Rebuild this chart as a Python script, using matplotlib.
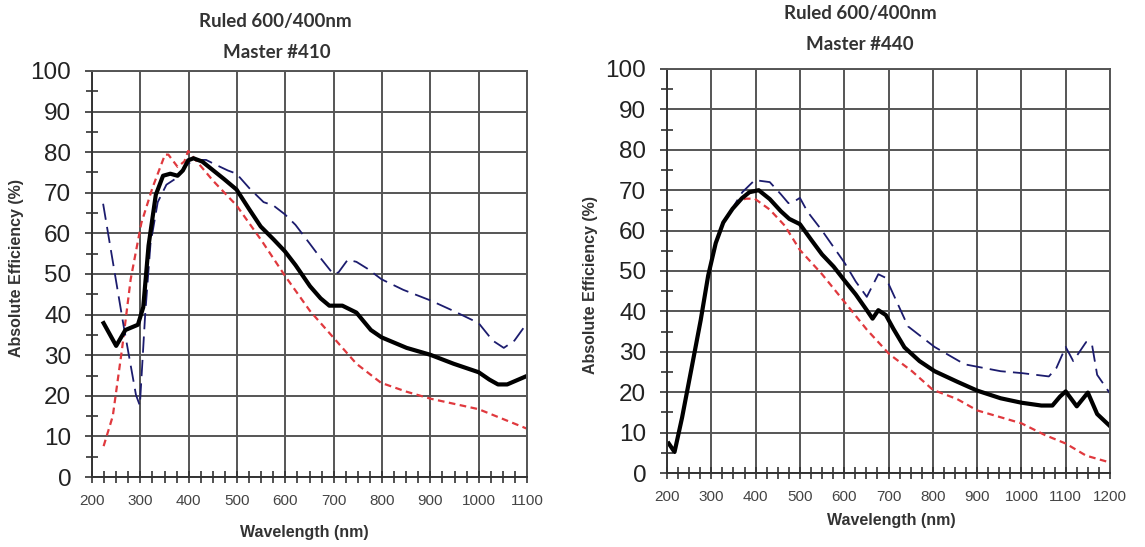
import numpy as np
import matplotlib
matplotlib.use("Agg")
import matplotlib.pyplot as plt
from matplotlib.ticker import MultipleLocator

plt.rcParams['font.family'] = ['Liberation Sans', 'DejaVu Sans']

# Master #410 efficiency curves (wavelength nm, efficiency %)
m410_black_x = [224, 250, 269, 295, 306, 317, 332, 347, 362, 377, 388, 399, 410, 428,
                451, 473, 499, 525, 549, 575, 599, 621, 651, 673, 691, 718, 747, 777,
                799, 851, 900, 948, 1000, 1022, 1040, 1059, 1100]
m410_black_y = [37.9, 32.3, 36.2, 37.5, 41.8, 57.0, 69.5, 74.2, 74.7, 74.2, 75.5, 78.0,
                78.5, 77.7, 75.5, 73.4, 70.8, 66.0, 61.7, 58.6, 55.6, 52.2, 47.0, 44.0,
                42.2, 42.2, 40.5, 36.2, 34.4, 31.8, 30.1, 27.9, 25.8, 24.0, 22.8, 22.8, 24.9]

m410_blue_x = [223, 265, 291, 299, 310, 321, 336, 354, 377, 391, 410, 436, 458, 481,
               499, 525, 555, 575, 599, 621, 651, 673, 699, 710, 729, 747, 770, 799,
               844, 900, 948, 1000, 1029, 1052, 1074, 1100]
m410_blue_y = [67.3, 37.5, 20.2, 17.6, 40.0, 57.4, 67.7, 72.0, 73.8, 76.4, 78.1, 78.1,
               76.8, 75.5, 74.7, 71.2, 67.7, 66.9, 64.7, 62.1, 57.4, 53.9, 50.0, 50.4,
               53.5, 53.0, 51.3, 48.7, 46.1, 43.5, 40.9, 37.9, 33.6, 31.8, 33.6, 37.9]

m410_red_x = [224, 243, 262, 280, 302, 325, 351, 358, 377, 391, 399, 417, 451, 499,
              551, 599, 651, 699, 747, 798, 851, 900, 1000, 1100]
m410_red_y = [7.6, 15.0, 31.4, 48.7, 62.5, 71.2, 79.4, 79.4, 76.4, 77.7, 80.3, 77.7,
              72.9, 66.9, 58.2, 49.6, 40.9, 34.4, 27.9, 23.2, 21.0, 19.3, 16.7, 11.9]

# Master #440 efficiency curves
m440_black_x = [204, 217, 234, 255, 276, 293, 310, 327, 348, 369, 386, 407, 432, 457,
                476, 500, 525, 550, 576, 601, 626, 651, 664, 677, 694, 711, 736, 770,
                804, 855, 900, 953, 1000, 1045, 1070, 1087, 1100, 1125, 1150, 1171, 1200]
m440_black_y = [7.3, 5.2, 13.7, 25.7, 37.8, 48.9, 56.9, 62.0, 65.4, 68.0, 69.5, 70.0,
                67.8, 64.8, 62.9, 61.6, 57.8, 54.1, 51.1, 47.6, 44.2, 40.3, 38.2, 40.3,
                39.1, 35.7, 31.1, 27.7, 25.2, 22.6, 20.4, 18.5, 17.4, 16.7, 16.7, 18.9,
                20.2, 16.5, 19.9, 14.6, 11.6]

m440_blue_x = [200, 217, 234, 255, 276, 293, 310, 327, 348, 370, 398, 432, 457, 474,
               487, 500, 517, 550, 601, 626, 651, 677, 694, 719, 744, 804, 872, 953,
               1003, 1062, 1079, 1100, 1117, 1146, 1159, 1171, 1200]
m440_blue_y = [7.7, 5.2, 13.7, 25.7, 37.8, 48.9, 56.9, 62.0, 65.6, 69.5, 72.5, 72.0,
               69.0, 66.8, 67.2, 68.1, 64.7, 60.0, 52.0, 47.4, 43.6, 49.2, 48.3, 42.3,
               36.3, 31.2, 26.9, 25.2, 24.7, 23.9, 26.0, 31.2, 27.7, 32.4, 32.0, 24.3, 19.7]

m440_red_x = [217, 234, 255, 276, 293, 310, 327, 348, 366, 378, 398, 432, 466, 500,
              550, 601, 651, 702, 753, 800, 855, 900, 1000, 1053, 1100, 1146, 1200]
m440_red_y = [5.2, 13.7, 25.7, 37.8, 48.9, 56.9, 62.0, 65.4, 67.5, 67.9, 67.9, 65.2,
              61.2, 55.2, 49.2, 42.3, 35.5, 29.4, 25.2, 20.6, 18.3, 15.5, 12.3, 9.4,
              7.3, 4.3, 2.6]

W, H = 1145, 547
fig = plt.figure(figsize=(W / 100, H / 100), dpi=100)


def box(x0, y0, x1, y1):
    return [x0 / W, 1 - y1 / H, (x1 - x0) / W, (y1 - y0) / H]


ax1 = fig.add_axes(box(92, 71, 527, 477))
ax2 = fig.add_axes(box(667, 69, 1110, 473))

navy = '#1c1c6e'
red = '#e0393e'
grid_c = '#555555'


def style(ax, xmax):
    ax.set_xlim(200, xmax)
    ax.set_ylim(0, 100)
    ax.xaxis.set_major_locator(MultipleLocator(100))
    ax.xaxis.set_minor_locator(MultipleLocator(25))
    ax.yaxis.set_major_locator(MultipleLocator(10))
    ax.yaxis.set_minor_locator(MultipleLocator(5))
    ax.grid(True, which='major', color=grid_c, linewidth=1.4)
    ax.set_axisbelow(True)
    for s in ax.spines.values():
        s.set_color(grid_c)
        s.set_linewidth(1.4)
    ax.spines['left'].set_color('#333333')
    ax.spines['bottom'].set_color('#333333')
    ax.tick_params(axis='y', which='major', direction='out', length=5, width=1.2,
                   color='#333333', labelsize=17.5, labelcolor='#222222', pad=10)
    ax.tick_params(axis='y', which='minor', direction='inout', length=8, width=1.2,
                   color='#333333')
    ax.tick_params(axis='x', which='both', direction='inout', length=8, width=1.2,
                   color='#333333', labelsize=11, labelcolor='#444444', pad=8)


style(ax1, 1100)
style(ax2, 1200)

ax1.plot(m410_red_x, m410_red_y, color=red, lw=1.6, dashes=(3, 2))
ax1.plot(m410_blue_x, m410_blue_y, color=navy, lw=1.3, dashes=(9, 4))
ax1.plot(m410_black_x, m410_black_y, color='black', lw=3.0, solid_joinstyle='round')

ax2.plot(m440_red_x, m440_red_y, color=red, lw=1.6, dashes=(3, 2))
ax2.plot(m440_blue_x, m440_blue_y, color=navy, lw=1.3, dashes=(9, 4))
ax2.plot(m440_black_x, m440_black_y, color='black', lw=3.0, solid_joinstyle='round')

title_font = dict(family=['Lato', 'DejaVu Sans'], fontweight='bold', fontsize=13.5,
                  color='#333333', ha='center', va='center')
fig.text(275 / W, 1 - 21 / H, 'Ruled 600/400nm', **title_font)
fig.text(277 / W, 1 - 52 / H, 'Master #410', **title_font)
fig.text(860 / W, 1 - 13 / H, 'Ruled 600/400nm', **title_font)
fig.text(860 / W, 1 - 45 / H, 'Master #440', **title_font)

label_font = dict(fontweight='bold', fontsize=11.5, color='#333333',
                  ha='center', va='center')
fig.text(304 / W, 1 - 533 / H, 'Wavelength (nm)', **label_font)
fig.text(891 / W, 1 - 521 / H, 'Wavelength (nm)', **label_font)
fig.text(17 / W, 1 - 268 / H, 'Absolute Efficiency (%)', rotation=90, **label_font)
fig.text(590 / W, 1 - 285 / H, 'Absolute Efficiency (%)', rotation=90, **label_font)

fig.savefig('out.png', dpi=100)
